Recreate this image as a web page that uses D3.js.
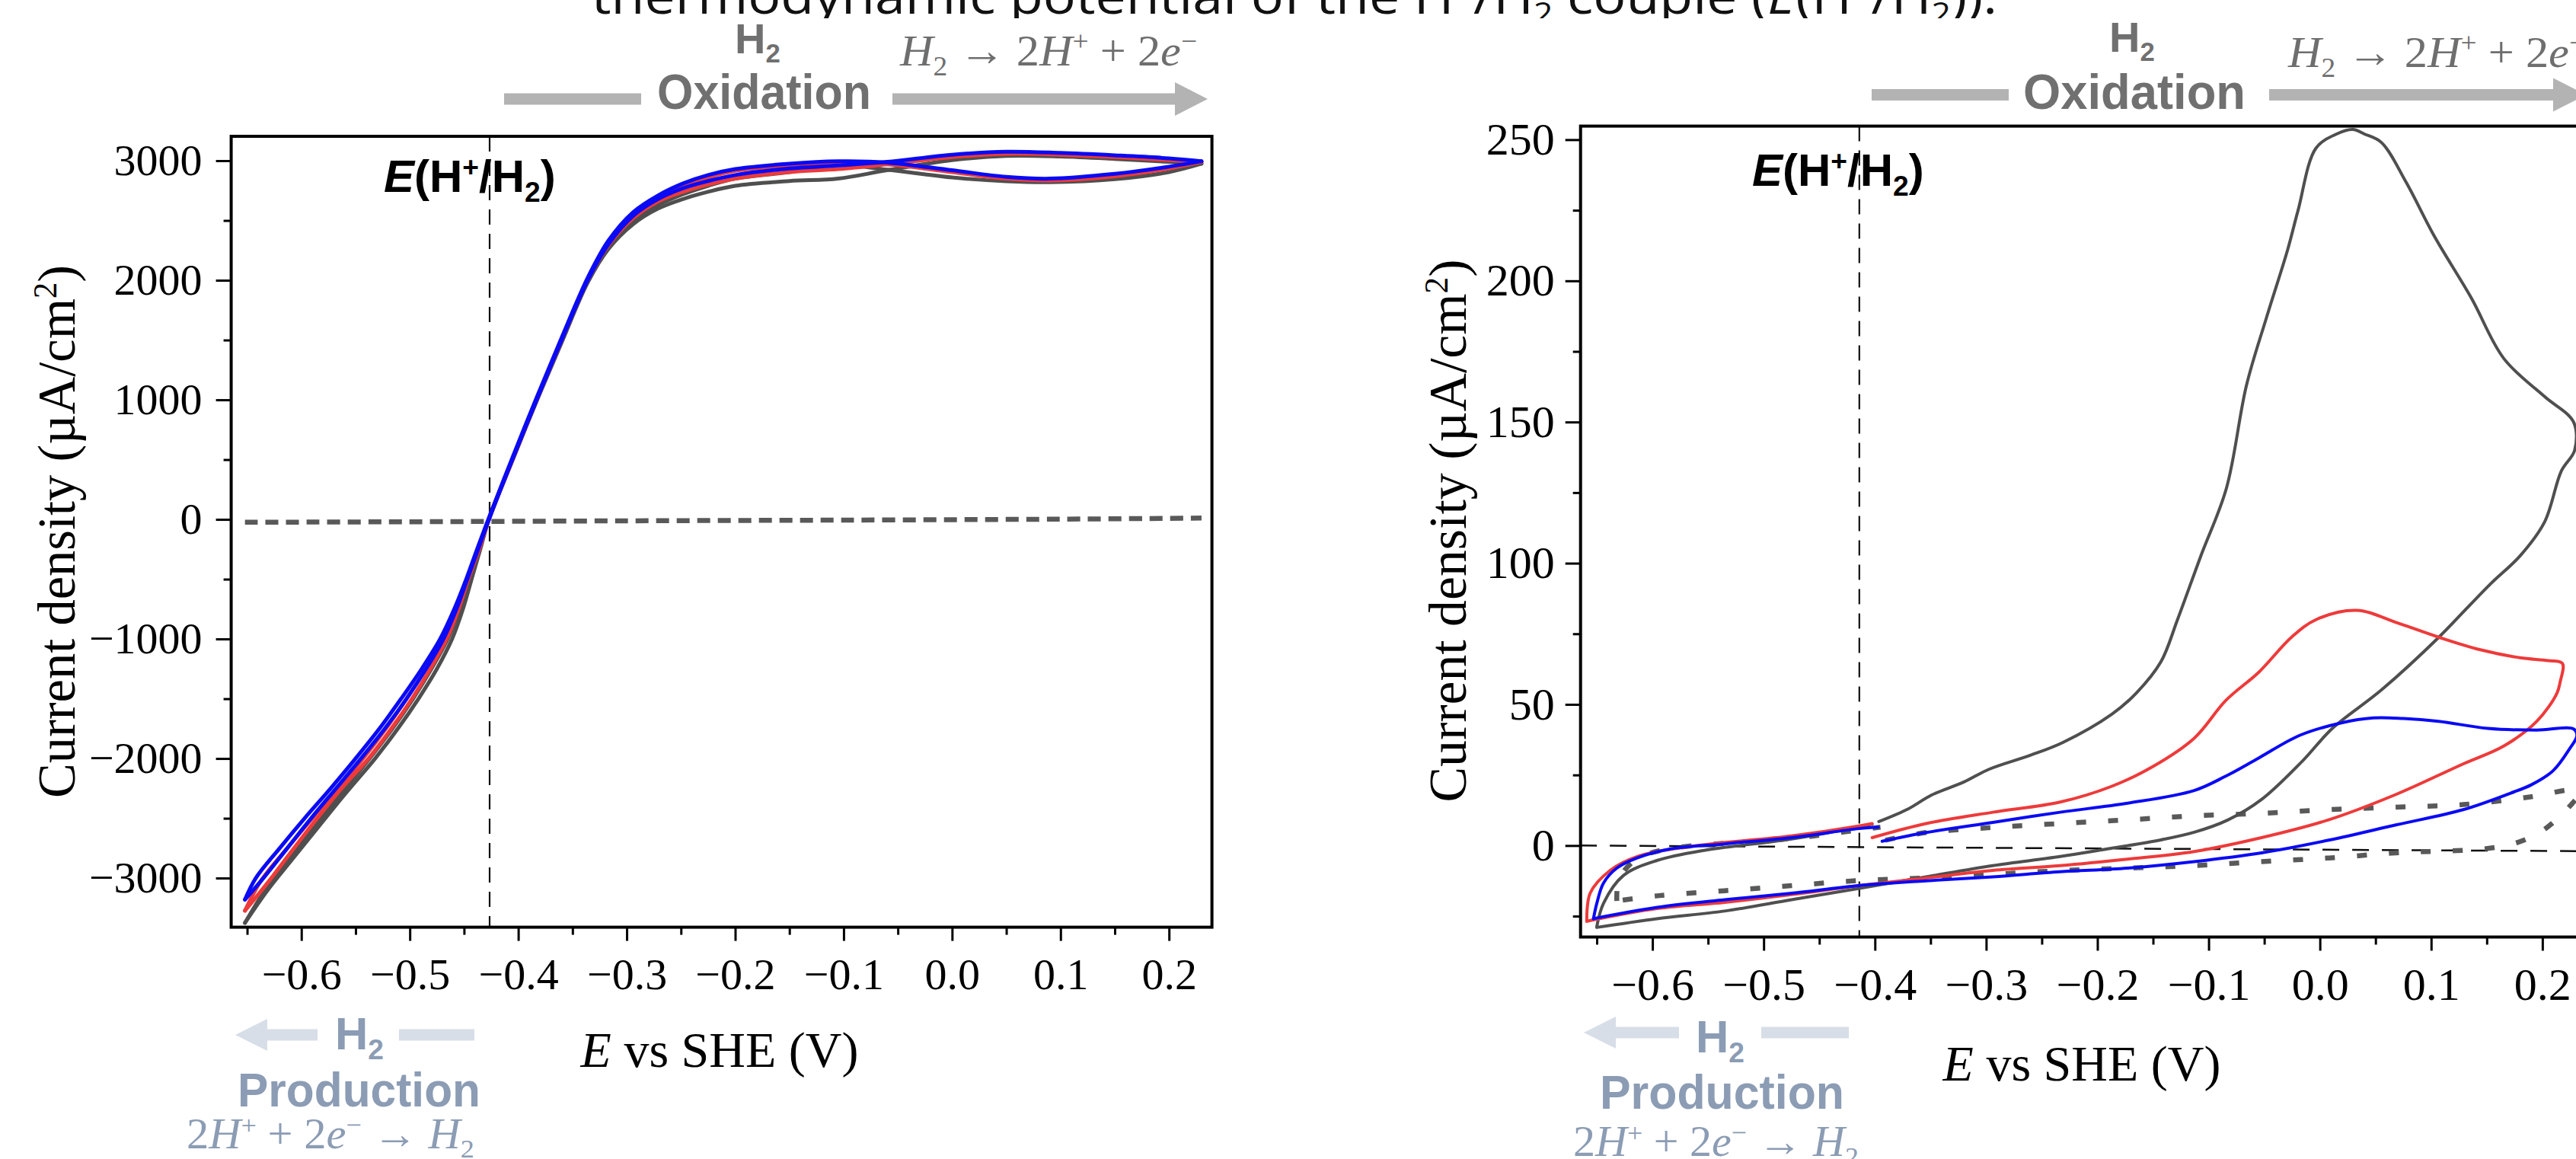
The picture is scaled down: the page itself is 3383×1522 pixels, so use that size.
<!DOCTYPE html>
<html>
<head>
<meta charset="utf-8">
<script src="https://cdn.jsdelivr.net/npm/d3@7"></script>
<style>
  body { margin: 0; background: #fff; }
  svg { display: block; }
</style>
</head>
<body>
<div id="wrapper"></div>
<script>
// ---- data: left panel (E vs SHE in V, current density in uA/cm2) ----
const leftXMajor = [-0.6, -0.5, -0.4, -0.3, -0.2, -0.1, 0.0, 0.1, 0.2]
const leftXMinor = [-0.65, -0.55, -0.45, -0.35, -0.25, -0.15, -0.05, 0.05, 0.15]
const leftYMajor = [-3000, -2000, -1000, 0, 1000, 2000, 3000]
const leftYMinor = [-2500, -1500, -500, 500, 1500, 2500]

const leftGrayFwd = [[-0.652,-3375],[-0.631,-3100],[-0.609,-2850],[-0.585,-2580],[-0.56,-2300],[-0.532,-2000],[-0.511,-1750],[-0.492,-1500],[-0.475,-1250],[-0.461,-1000],[-0.451,-750],[-0.443,-500],[-0.435,-250],[-0.427,0],[-0.405,500],[-0.383,990],[-0.36,1480],[-0.336,1980],[-0.317,2260],[-0.294,2470],[-0.271,2600],[-0.248,2680],[-0.225,2740],[-0.2,2790],[-0.15,2830],[-0.105,2850],[-0.06,2920],[0,3005],[0.05,3040],[0.1,3035],[0.15,3015],[0.2,2990],[0.23,2975]]
const leftGrayRev = [[0.23,2975],[0.2,2905],[0.15,2845],[0.09,2820],[0.05,2828],[0,2860],[-0.06,2925],[-0.105,2965],[-0.15,2905],[-0.2,2850],[-0.225,2790],[-0.248,2720],[-0.271,2630],[-0.294,2500],[-0.317,2290],[-0.336,1990],[-0.36,1490],[-0.383,995],[-0.405,505],[-0.427,5],[-0.436,-250],[-0.445,-500],[-0.454,-750],[-0.465,-1000],[-0.48,-1250],[-0.497,-1500],[-0.516,-1750],[-0.537,-2000],[-0.562,-2280],[-0.586,-2550],[-0.61,-2830],[-0.634,-3110],[-0.652,-3375]]
const leftRedFwd = [[-0.652,-3273],[-0.632,-3050],[-0.611,-2800],[-0.588,-2530],[-0.563,-2250],[-0.538,-2000],[-0.517,-1750],[-0.498,-1500],[-0.481,-1250],[-0.466,-1000],[-0.455,-750],[-0.446,-500],[-0.436,-250],[-0.427,0],[-0.405,505],[-0.383,1000],[-0.36,1500],[-0.336,2000],[-0.317,2290],[-0.294,2520],[-0.271,2660],[-0.248,2740],[-0.225,2800],[-0.2,2850],[-0.15,2905],[-0.105,2930],[-0.06,2970],[0,3030],[0.05,3058],[0.1,3050],[0.15,3030],[0.2,3005],[0.23,2990]]
const leftRedRev = [[0.23,2990],[0.2,2935],[0.15,2870],[0.09,2835],[0.05,2850],[0,2905],[-0.06,2970],[-0.105,2985],[-0.15,2960],[-0.2,2915],[-0.225,2860],[-0.248,2790],[-0.271,2690],[-0.294,2550],[-0.317,2320],[-0.336,2010],[-0.36,1510],[-0.383,1010],[-0.405,515],[-0.427,10],[-0.437,-250],[-0.447,-500],[-0.457,-750],[-0.469,-1000],[-0.485,-1250],[-0.503,-1500],[-0.522,-1750],[-0.543,-2000],[-0.566,-2250],[-0.59,-2500],[-0.613,-2750],[-0.637,-3020],[-0.652,-3273]]
const leftBlueFwd = [[-0.652,-3180],[-0.635,-3000],[-0.613,-2750],[-0.591,-2500],[-0.568,-2250],[-0.545,-2000],[-0.523,-1750],[-0.503,-1500],[-0.485,-1250],[-0.469,-1000],[-0.457,-750],[-0.447,-500],[-0.437,-250],[-0.427,0],[-0.405,510],[-0.383,1000],[-0.36,1500],[-0.336,2000],[-0.317,2300],[-0.294,2540],[-0.271,2680],[-0.248,2770],[-0.225,2830],[-0.2,2880],[-0.15,2935],[-0.105,2960],[-0.06,2990],[0,3050],[0.05,3075],[0.1,3065],[0.15,3045],[0.2,3020],[0.23,2996]]
const leftBlueRev = [[0.23,2996],[0.2,2950],[0.15,2890],[0.09,2850],[0.05,2865],[0,2920],[-0.06,2985],[-0.105,2995],[-0.15,2975],[-0.2,2930],[-0.225,2880],[-0.248,2810],[-0.271,2710],[-0.294,2570],[-0.317,2330],[-0.336,2020],[-0.36,1520],[-0.383,1020],[-0.405,525],[-0.427,15],[-0.438,-250],[-0.448,-500],[-0.459,-750],[-0.472,-1000],[-0.489,-1250],[-0.508,-1500],[-0.528,-1750],[-0.55,-2000],[-0.573,-2250],[-0.597,-2500],[-0.62,-2750],[-0.642,-3000],[-0.652,-3180]]
const leftBlank = [[-0.652,-24],[-0.5,-20],[-0.3,-12],[-0.1,-6],[0.1,2],[0.23,11]]
const leftERef = -0.4264

// ---- data: right panel ----
const rightXMajor = [-0.6, -0.5, -0.4, -0.3, -0.2, -0.1, 0.0, 0.1, 0.2]
const rightXMinor = [-0.65, -0.55, -0.45, -0.35, -0.25, -0.15, -0.05, 0.05, 0.15]
const rightYMajor = [0, 50, 100, 150, 200, 250]
const rightYMinor = [-25, 25, 75, 125, 175, 225]

const rightGrayLeft = [[-0.650,-28.7],[-0.644,-20.5],[-0.626,-10.6],[-0.596,-5.3],[-0.5535,-1.7],[-0.475,2.3],[-0.4025,7.6]]
const rightGrayMain = [[-0.3965,8.5],[-0.37,13],[-0.349,17.9],[-0.32,22.5],[-0.2975,27],[-0.26,32],[-0.231,36.5],[-0.187,46.5],[-0.165,54],[-0.143,65],[-0.128,80],[-0.107,102.6],[-0.084,126.6],[-0.066,163],[-0.048,187],[-0.029,211],[-0.0196,225],[-0.0035,247],[0.015,252],[0.0296,253.6],[0.04,252],[0.0553,249],[0.0774,235],[0.103,215.7],[0.136,194],[0.1655,172.4],[0.202,159],[0.228,150],[0.229,140],[0.217,132.6],[0.202,114.6],[0.18,102.6],[0.154,92.9],[0.132,84],[0.107,73.8],[0.0553,55.1],[0.0112,41.5],[-0.016,29.8],[-0.0525,16.3],[-0.0825,9.1],[-0.113,4.7],[-0.143,2.0],[-0.191,-1.2],[-0.2335,-3.9],[-0.294,-7.1],[-0.354,-11.1],[-0.4146,-15.2],[-0.475,-19.2],[-0.535,-23.2],[-0.596,-25.9],[-0.650,-29]]
const rightRedLeft = [[-0.659,-26.8],[-0.656,-16.9],[-0.638,-8.8],[-0.6137,-3.9],[-0.5655,-0.3],[-0.475,3.4],[-0.4146,6.9],[-0.4025,7.8]]
const rightRedMain = [[-0.4025,2.8],[-0.354,7.8],[-0.294,11.8],[-0.2335,15.4],[-0.187,21],[-0.15,28],[-0.113,38],[-0.0843,51.5],[-0.0549,61.4],[-0.0255,73.8],[-0.0035,80],[0.0331,83.3],[0.07,78.8],[0.1067,73.8],[0.1435,69.4],[0.18,66.5],[0.205,65.5],[0.218,64.5],[0.216,58],[0.213,53.9],[0.195,44],[0.1655,35.3],[0.1287,28.9],[0.0684,18.1],[0.0078,9.1],[-0.0525,2.8],[-0.113,-2.1],[-0.173,-4.8],[-0.2335,-7.1],[-0.294,-8.8],[-0.354,-11.5],[-0.4146,-14.2],[-0.475,-17.4],[-0.535,-20.1],[-0.5957,-22.3],[-0.659,-26.8]]
const rightBlueLeft = [[-0.653,-25.9],[-0.650,-20.5],[-0.644,-13.3],[-0.632,-8],[-0.6137,-4.4],[-0.5836,-1.2],[-0.535,0.6],[-0.475,2.8],[-0.4146,6],[-0.397,6.5]]
const rightBlueMain = [[-0.3935,1.5],[-0.354,4.6],[-0.294,8.2],[-0.2335,11.8],[-0.173,15],[-0.113,19.5],[-0.085,24.5],[-0.055,31],[-0.0183,39],[0.0186,43.4],[0.0479,45.2],[0.075,45],[0.1067,44],[0.1508,41.5],[0.195,40.9],[0.228,41.3],[0.231,39],[0.224,34],[0.2096,26.5],[0.19,21.5],[0.171,18.5],[0.1287,12.7],[0.0684,7.3],[0.008,1.9],[-0.0525,-2.6],[-0.113,-5.7],[-0.173,-8.0],[-0.2335,-9.3],[-0.294,-11.1],[-0.354,-12.5],[-0.4146,-14.2],[-0.475,-16.9],[-0.535,-19.2],[-0.5957,-21.9],[-0.653,-25.9]]
const rightBlankLeft = [[-0.632,-19.6],[-0.63,-12],[-0.615,-5],[-0.59,-1.5],[-0.535,0.8],[-0.475,2.5],[-0.4146,5.5],[-0.395,6.5]]
const rightBlankMain = [[-0.3906,1.9],[-0.354,4.6],[-0.294,6.4],[-0.2335,7.8],[-0.173,9.1],[-0.113,10.5],[-0.0525,11.4],[0.008,12.7],[0.0684,13.6],[0.1287,14.5],[0.189,17.2],[0.228,19.5],[0.232,18],[0.225,14.1],[0.201,5.5],[0.177,1.0],[0.147,-1.2],[0.0986,-2.1],[0.0684,-2.6],[0.008,-4.4],[-0.0525,-5.7],[-0.113,-7.1],[-0.173,-8.0],[-0.2335,-8.9],[-0.294,-10.2],[-0.354,-11.5],[-0.4146,-12.4],[-0.475,-14.2],[-0.535,-16.0],[-0.5957,-17.8],[-0.632,-19.6]]
const rightZeroLine = [[-0.665,0],[0.24,-2]]
const rightERef = -0.414

const colors = { gray: "#4f4f4f", red: "#ee3a3a", blue: "#0a0af5", blank: "#595959" }
const serif = "'Liberation Serif', 'Times New Roman', serif"
const sans = "'Liberation Sans', Arial, Helvetica, sans-serif"

const svg = d3.select("#wrapper").append("svg").attr("width", 3383).attr("height", 1522)

// writes text with italic / superscript / subscript pieces
function richText(text, parts, size) {
  let shift = 0
  parts.forEach((p) => {
    const target = p.sup ? -size * 0.34 : p.sub ? size * 0.22 : 0
    const t = text.append("tspan").text(p.t)
    if (target !== shift) t.attr("dy", target - shift)
    shift = target
    if (p.i) t.style("font-style", "italic")
    if (p.sup || p.sub) t.style("font-size", `${size * 0.62}px`)
  })
  return text
}

// ---- title strip (cut off at the top in the original) ----
svg.append("clipPath").attr("id", "titleClip")
  .append("rect").attr("x", 0).attr("y", 0).attr("width", 3383).attr("height", 24)
const title = svg.append("text")
  .attr("clip-path", "url(#titleClip)")
  .attr("x", 777).attr("y", 18)
  .attr("textLength", 1846).attr("lengthAdjust", "spacingAndGlyphs")
  .style("font-family", "'Open Sans', sans-serif").style("font-size", "64px").attr("fill", "#111")
richText(title, [
  { t: "thermodynamic potential of the H" }, { t: "+", sup: true }, { t: "/H" }, { t: "2", sub: true },
  { t: " couple (" }, { t: "E", i: true }, { t: "(H" }, { t: "+", sup: true }, { t: "/H" }, { t: "2", sub: true }, { t: "))." },
], 64)

function drawPanel(cfg) {
  const xScale = d3.scaleLinear().domain(cfg.xDomain).range([cfg.left, cfg.right])
  const yScale = d3.scaleLinear().domain(cfg.yDomain).range([cfg.bottom, cfg.top])
  const bounds = svg.append("g")

  bounds.append("clipPath").attr("id", cfg.id + "clip")
    .append("rect")
    .attr("x", cfg.left).attr("y", cfg.top)
    .attr("width", cfg.right - cfg.left).attr("height", cfg.bottom - cfg.top)

  const plot = bounds.append("g").attr("clip-path", `url(#${cfg.id}clip)`)

  // E(H+/H2) reference line
  plot.append("line")
    .attr("x1", xScale(cfg.eRef)).attr("x2", xScale(cfg.eRef))
    .attr("y1", cfg.top).attr("y2", cfg.bottom)
    .attr("stroke", "#111").attr("stroke-width", 2.2)
    .style("stroke-dasharray", "20 12")

  const lineGenerator = d3.line()
    .x((d) => xScale(d[0]))
    .y((d) => yScale(d[1]))
    .curve(d3.curveCatmullRom.alpha(0.5))

  cfg.series.forEach((s) => {
    s.segments.forEach((seg) => {
      plot.append("path")
        .datum(seg)
        .attr("d", lineGenerator)
        .attr("fill", "none")
        .attr("stroke", s.color)
        .attr("stroke-width", s.width)
        .attr("stroke-linejoin", "round")
        .attr("stroke-linecap", s.dash ? "butt" : "round")
        .style("stroke-dasharray", s.dash || null)
    })
  })

  // frame
  bounds.append("rect")
    .attr("x", cfg.left).attr("y", cfg.top)
    .attr("width", cfg.right - cfg.left).attr("height", cfg.bottom - cfg.top)
    .attr("fill", "none").attr("stroke", "#000").attr("stroke-width", 4)

  // axes
  const styleAxis = (g) => {
    g.select(".domain").remove()
    g.selectAll(".tick line").attr("stroke", "#000").attr("stroke-width", 3)
    g.selectAll(".tick text")
      .attr("fill", "#000")
      .style("font-family", serif)
      .style("font-size", `${cfg.tickFont}px`)
  }

  const xAxisGenerator = d3.axisBottom(xScale)
    .tickValues(cfg.xMajor).tickFormat(d3.format(".1f"))
    .tickSize(18).tickPadding(cfg.xPad).tickSizeOuter(0)
  bounds.append("g").attr("transform", `translate(0,${cfg.bottom})`).call(xAxisGenerator).call(styleAxis)

  const xMinorGenerator = d3.axisBottom(xScale)
    .tickValues(cfg.xMinor).tickFormat("").tickSize(10).tickSizeOuter(0)
  bounds.append("g").attr("transform", `translate(0,${cfg.bottom})`).call(xMinorGenerator).call(styleAxis)

  const yAxisGenerator = d3.axisLeft(yScale)
    .tickValues(cfg.yMajor).tickFormat(d3.format("d"))
    .tickSize(20).tickPadding(cfg.yPad).tickSizeOuter(0)
  bounds.append("g").attr("transform", `translate(${cfg.left},0)`).call(yAxisGenerator).call(styleAxis)

  const yMinorGenerator = d3.axisLeft(yScale)
    .tickValues(cfg.yMinor).tickFormat("").tickSize(10).tickSizeOuter(0)
  bounds.append("g").attr("transform", `translate(${cfg.left},0)`).call(yMinorGenerator).call(styleAxis)

  // axis titles
  const xLabel = bounds.append("text")
    .attr("x", cfg.xLabel[0]).attr("y", cfg.xLabel[1])
    .style("text-anchor", "middle")
    .style("font-family", serif).style("font-size", "66px")
  richText(xLabel, [{ t: "E", i: true }, { t: " vs SHE (V)" }], 66)

  const yLabel = bounds.append("text")
    .attr("transform", `translate(${cfg.yLabel[0]},${cfg.yLabel[1]}) rotate(-90)`)
    .attr("textLength", cfg.yLabel[2]).attr("lengthAdjust", "spacingAndGlyphs")
    .style("text-anchor", "middle")
    .style("font-family", serif).style("font-size", "70px")
  richText(yLabel, [{ t: "Current density (\u00b5A/cm" }, { t: "2", sup: true }, { t: ")" }], 70)

  // E(H+/H2) label
  const eLabel = bounds.append("text")
    .attr("x", cfg.eLabel[0]).attr("y", cfg.eLabel[1])
    .style("font-family", sans).style("font-weight", "bold").style("font-size", "60px")
  richText(eLabel, [
    { t: "E", i: true }, { t: "(H" }, { t: "+", sup: true }, { t: "/H" }, { t: "2", sub: true }, { t: ")" },
  ], 60)

  // oxidation annotation
  const ox = cfg.ox
  const oxColor = "#b3b3b3"
  bounds.append("rect").attr("x", ox.bar1[0]).attr("width", ox.bar1[1] - ox.bar1[0])
    .attr("y", ox.barY - 7.5).attr("height", 15).attr("fill", oxColor)
  bounds.append("rect").attr("x", ox.bar2[0]).attr("width", ox.bar2[1] - ox.bar2[0])
    .attr("y", ox.barY - 7.5).attr("height", 15).attr("fill", oxColor)
  bounds.append("path")
    .attr("d", `M${ox.bar2[1]},${ox.barY - 22}L${ox.bar2[1] + 43},${ox.barY}L${ox.bar2[1]},${ox.barY + 22}Z`)
    .attr("fill", oxColor)
  const oxH = bounds.append("text").attr("x", ox.h2[0]).attr("y", ox.h2[1])
    .style("font-family", sans).style("font-weight", "bold").style("font-size", "56px").attr("fill", "#707070")
  richText(oxH, [{ t: "H" }, { t: "2", sub: true }], 56)
  bounds.append("text").attr("x", ox.word[0]).attr("y", ox.word[1])
    .attr("textLength", ox.word[2]).attr("lengthAdjust", "spacingAndGlyphs")
    .style("font-family", sans).style("font-weight", "bold").style("font-size", "64px").attr("fill", "#707070")
    .text("Oxidation")
  const oxEq = bounds.append("text").attr("x", ox.eq[0]).attr("y", ox.eq[1])
    .attr("textLength", ox.eq[2]).attr("lengthAdjust", "spacingAndGlyphs")
    .style("font-family", serif).style("font-size", "58px").attr("fill", "#6e6e6e")
  richText(oxEq, [
    { t: "H", i: true }, { t: "2", sub: true }, { t: "  \u2192 2" }, { t: "H", i: true }, { t: "+", sup: true },
    { t: " + 2" }, { t: "e", i: true }, { t: "\u2212", sup: true },
  ], 58)

  // production annotation
  const pr = cfg.prod
  const prArrow = "#d7dee8"
  const prText = "#8b9cb4"
  bounds.append("path")
    .attr("d", `M${pr.tip},${pr.barY}L${pr.tip + 42},${pr.barY - 21}L${pr.tip + 42},${pr.barY + 21}Z`)
    .attr("fill", prArrow)
  bounds.append("rect").attr("x", pr.tip + 42).attr("width", pr.bar1 - pr.tip - 42)
    .attr("y", pr.barY - 7.5).attr("height", 15).attr("fill", prArrow)
  bounds.append("rect").attr("x", pr.bar2[0]).attr("width", pr.bar2[1] - pr.bar2[0])
    .attr("y", pr.barY - 7.5).attr("height", 15).attr("fill", prArrow)
  const prH = bounds.append("text").attr("x", pr.h2[0]).attr("y", pr.h2[1])
    .style("font-family", sans).style("font-weight", "bold").style("font-size", "60px").attr("fill", prText)
  richText(prH, [{ t: "H" }, { t: "2", sub: true }], 60)
  bounds.append("text").attr("x", pr.word[0]).attr("y", pr.word[1])
    .attr("textLength", pr.word[2]).attr("lengthAdjust", "spacingAndGlyphs")
    .style("font-family", sans).style("font-weight", "bold").style("font-size", "63px").attr("fill", prText)
    .text("Production")
  const prEq = bounds.append("text").attr("x", pr.eq[0]).attr("y", pr.eq[1])
    .attr("textLength", pr.eq[2]).attr("lengthAdjust", "spacingAndGlyphs")
    .style("font-family", serif).style("font-size", "56px").attr("fill", prText)
  richText(prEq, [
    { t: "2" }, { t: "H", i: true }, { t: "+", sup: true }, { t: " + 2" }, { t: "e", i: true }, { t: "\u2212", sup: true },
    { t: " \u2192 " }, { t: "H", i: true }, { t: "2", sub: true },
  ], 56)
}

drawPanel({
  id: "left",
  left: 303.6, right: 1591.6, top: 179, bottom: 1217.6,
  xDomain: [-0.6647, 0.2396], yDomain: [-3411, 3204],
  xMajor: leftXMajor, xMinor: leftXMinor, yMajor: leftYMajor, yMinor: leftYMinor,
  tickFont: 58, xPad: 22, yPad: 18,
  eRef: leftERef,
  series: [
    { color: colors.blank, width: 6.5, dash: "17 10", segments: [leftBlank] },
    { color: colors.gray, width: 5, segments: [leftGrayFwd, leftGrayRev] },
    { color: colors.red, width: 5, segments: [leftRedFwd, leftRedRev] },
    { color: colors.blue, width: 5, segments: [leftBlueFwd, leftBlueRev] },
  ],
  xLabel: [945, 1401], yLabel: [98, 698, 700],
  eLabel: [504, 252],
  ox: { bar1: [662, 842], bar2: [1172, 1543], barY: 130, h2: [965, 70], word: [863, 143, 281], eq: [1182, 86, 390] },
  prod: { tip: 309, bar1: 417, bar2: [524, 623], barY: 1359, h2: [440, 1378], word: [312, 1453, 319], eq: [245, 1508, 378] },
})

drawPanel({
  id: "right",
  left: 2075.7, right: 3397.3, top: 165.6, bottom: 1230.5,
  xDomain: [-0.6646, 0.24], yDomain: [-32.4, 254.8],
  xMajor: rightXMajor, xMinor: rightXMinor, yMajor: rightYMajor, yMinor: rightYMinor,
  tickFont: 60, xPad: 22, yPad: 14,
  eRef: rightERef,
  series: [
    { color: "#111", width: 2.5, dash: "22 17", segments: [rightZeroLine] },
    { color: colors.blank, width: 6.5, dash: "13 29", segments: [rightBlankLeft, rightBlankMain] },
    { color: colors.gray, width: 4, segments: [rightGrayLeft, rightGrayMain] },
    { color: colors.red, width: 4, segments: [rightRedLeft, rightRedMain] },
    { color: colors.blue, width: 4, segments: [rightBlueLeft, rightBlueMain] },
  ],
  xLabel: [2734, 1419], yLabel: [1925, 697, 713],
  eLabel: [2301, 244],
  ox: { bar1: [2458, 2638], bar2: [2980, 3353], barY: 124.5, h2: [2770, 68], word: [2657, 143, 292], eq: [3005, 88, 390] },
  prod: { tip: 2080, bar1: 2205, bar2: [2313, 2428], barY: 1356, h2: [2227, 1382], word: [2101, 1456, 321], eq: [2066, 1518, 375] },
})
</script>
</body>
</html>
